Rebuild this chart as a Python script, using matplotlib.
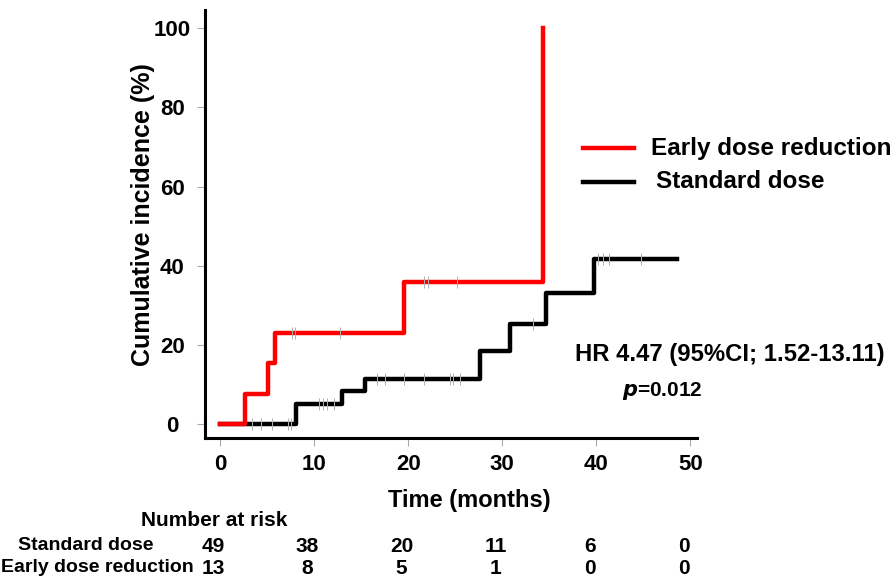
import numpy as np
import matplotlib
matplotlib.use("Agg")
import matplotlib.pyplot as plt
import matplotlib.transforms as mtransforms

plt.rcParams['font.family'] = ['Liberation Sans', 'DejaVu Sans']
plt.rcParams['font.weight'] = 'bold'

# step curves (months, cumulative incidence %)
red_t = [0, 2.67, 5.14, 5.83, 19.6, 34.35]
red_y = [0, 7.7, 15.4, 23.1, 35.9, 100]
red_cens = [7.6, 8.0, 12.7, 21.7, 22.1, 25.2]

blk_t = [0, 8.07, 12.95, 15.46, 27.6, 30.85, 34.6, 39.7, 48.55]
blk_y = [0, 5.1, 8.4, 11.5, 18.4, 25.4, 33.1, 41.8, 41.8]
blk_cens = [3.4, 4.3, 5.5, 7.2, 7.5, 10.5, 10.9, 11.4, 12.1, 16.7, 17.5,
            19.6, 21.7, 24.4, 24.8, 25.5, 33.3, 40.2, 40.7, 41.3, 44.7]

risk_times = [0, 10, 20, 30, 40, 50]
risk_std = [49, 38, 20, 11, 6, 0]
risk_early = [13, 8, 5, 1, 0, 0]


def step_val(t, ts, ys):
    i = np.searchsorted(ts, t, side='right') - 1
    return ys[i]


W, H = 896, 579
fig = plt.figure(figsize=(W / 100, H / 100), dpi=100)
ax = fig.add_axes([205 / W, 1 - 438 / H, (697 - 205) / W, (438 - 10) / H])

ax.step(blk_t, blk_y, where='post', color='black', lw=3.2, zorder=3)
ax.step(red_t, red_y, where='post', color='#ff0000', lw=3.2, zorder=4)

ax.plot(red_cens, [step_val(t, red_t, red_y) for t in red_cens], ls='none',
        marker='|', ms=8, mew=0.7, color='#b0b0b0', zorder=5)
ax.plot(blk_cens, [step_val(t, blk_t, blk_y) for t in blk_cens], ls='none',
        marker='|', ms=8, mew=0.7, color='#b0b0b0', zorder=5)

ax.set_xlim(-1.6, 50.7)
ax.set_ylim(-3.5, 104.6)
ax.set_xticks(risk_times)
ax.set_yticks([0, 20, 40, 60, 80, 100])
for s in ['top', 'right']:
    ax.spines[s].set_visible(False)
for s in ['left', 'bottom']:
    ax.spines[s].set_linewidth(2.2)
ax.tick_params(axis='both', length=6, width=0.8, color='#aaaaaa', labelsize=16)
ax.tick_params(axis='y', pad=17.5)
ax.tick_params(axis='x', pad=5.5)
for lab in ax.get_yticklabels():
    lab.set_horizontalalignment('center')
    lab.set_fontweight('bold')
for lab in ax.get_xticklabels():
    lab.set_fontweight('bold')

fig.text(143 / W, 1 - 215 / H, 'Cumulative incidence (%)', rotation=90,
         ha='center', va='center', fontsize=18, fontweight='bold')
fig.text(469 / W, 1 - 500 / H, 'Time (months)', ha='center', va='center',
         fontsize=17, fontweight='bold')

# legend
fig.add_artist(plt.Line2D([583 / W, 634 / W], [1 - 148 / H] * 2, color='#ff0000', lw=3.2))
fig.add_artist(plt.Line2D([583 / W, 634 / W], [1 - 182 / H] * 2, color='black', lw=3.2))
fig.text(651 / W, 1 - 148 / H, 'Early dose reduction', ha='left', va='center',
         fontsize=17.5, fontweight='bold')
fig.text(656 / W, 1 - 182 / H, 'Standard dose', ha='left', va='center',
         fontsize=17.5, fontweight='bold')

fig.text(575 / W, 1 - 354 / H, 'HR 4.47 (95%CI; 1.52-13.11)', ha='left', va='center',
         fontsize=17.2, fontweight='bold')
fig.text(622 / W, 1 - 391 / H, r'$\bfit{p}$=0.012', ha='left', va='center',
         fontsize=15, fontweight='bold')

# number at risk table
fig.text(214 / W, 1 - 521 / H, 'Number at risk', ha='center', va='center',
         fontsize=15, fontweight='bold')
fig.text(18 / W, 1 - 546 / H, 'Standard dose', ha='left', va='center',
         fontsize=14, fontweight='bold')
fig.text(1 / W, 1 - 568 / H, 'Early dose reduction', ha='left', va='center',
         fontsize=14, fontweight='bold')
tr = mtransforms.blended_transform_factory(ax.transData, fig.transFigure)
for t, a, b in zip(risk_times, risk_std, risk_early):
    ax.text(t - 0.7, 1 - 546 / H, str(a), transform=tr, ha='center', va='center',
            fontsize=15, fontweight='bold', clip_on=False)
    ax.text(t - 0.7, 1 - 568 / H, str(b), transform=tr, ha='center', va='center',
            fontsize=15, fontweight='bold', clip_on=False)

fig.savefig('out.png', dpi=100)
